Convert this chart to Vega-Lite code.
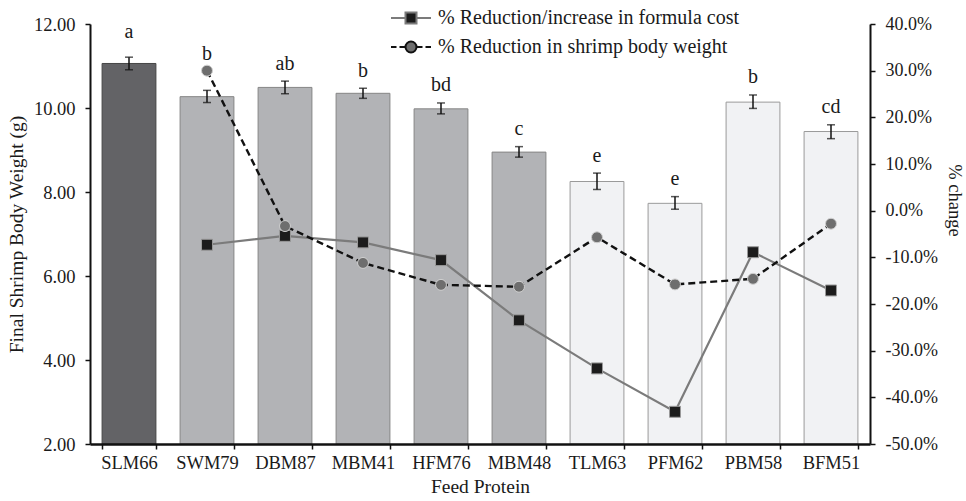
{
  "$schema": "https://vega.github.io/schema/vega-lite/v6.json",
  "width": 780,
  "height": 420,
  "autosize": {"type": "none"},
  "padding": {"left": 90, "top": 24, "right": 96, "bottom": 57},
  "background": "white",
  "config": {
    "font": "Liberation Serif",
    "view": {"stroke": null},
    "legend": {"labelFont": "Liberation Serif", "titleFont": "Liberation Serif"},
    "axis": {
      "labelFont": "Liberation Serif",
      "titleFont": "Liberation Serif",
      "labelColor": "#1a1a1a",
      "titleColor": "#1a1a1a",
      "titleFontWeight": "normal",
      "domainColor": "#111111",
      "tickColor": "#111111",
      "grid": false
    }
  },
  "datasets": {
    "bars": [
      {"protein": "SLM66", "group": "g1", "weight": 11.06, "lo": 10.91, "hi": 11.21, "letter": "a"},
      {"protein": "SWM79", "group": "g2", "weight": 10.27, "lo": 10.13, "hi": 10.42, "letter": "b"},
      {"protein": "DBM87", "group": "g2", "weight": 10.49, "lo": 10.34, "hi": 10.64, "letter": "ab"},
      {"protein": "MBM41", "group": "g2", "weight": 10.35, "lo": 10.23, "hi": 10.47, "letter": "b"},
      {"protein": "HFM76", "group": "g2", "weight": 9.98, "lo": 9.86, "hi": 10.12, "letter": "bd"},
      {"protein": "MBM48", "group": "g2", "weight": 8.95, "lo": 8.83, "hi": 9.08, "letter": "c"},
      {"protein": "TLM63", "group": "g3", "weight": 8.25, "lo": 8.06, "hi": 8.45, "letter": "e"},
      {"protein": "PFM62", "group": "g3", "weight": 7.73, "lo": 7.59, "hi": 7.89, "letter": "e"},
      {"protein": "PBM58", "group": "g3", "weight": 10.14, "lo": 9.99, "hi": 10.31, "letter": "b"},
      {"protein": "BFM51", "group": "g3", "weight": 9.44, "lo": 9.27, "hi": 9.6, "letter": "cd"}
    ],
    "lines": [
      {"protein": "SWM79", "series": "% Reduction/increase in formula cost", "value": -0.073},
      {"protein": "DBM87", "series": "% Reduction/increase in formula cost", "value": -0.054},
      {"protein": "MBM41", "series": "% Reduction/increase in formula cost", "value": -0.068},
      {"protein": "HFM76", "series": "% Reduction/increase in formula cost", "value": -0.106},
      {"protein": "MBM48", "series": "% Reduction/increase in formula cost", "value": -0.235},
      {"protein": "TLM63", "series": "% Reduction/increase in formula cost", "value": -0.338},
      {"protein": "PFM62", "series": "% Reduction/increase in formula cost", "value": -0.431},
      {"protein": "PBM58", "series": "% Reduction/increase in formula cost", "value": -0.089},
      {"protein": "BFM51", "series": "% Reduction/increase in formula cost", "value": -0.171},
      {"protein": "SWM79", "series": "% Reduction in shrimp body weight", "value": 0.3},
      {"protein": "DBM87", "series": "% Reduction in shrimp body weight", "value": -0.033},
      {"protein": "MBM41", "series": "% Reduction in shrimp body weight", "value": -0.112},
      {"protein": "HFM76", "series": "% Reduction in shrimp body weight", "value": -0.159},
      {"protein": "MBM48", "series": "% Reduction in shrimp body weight", "value": -0.163},
      {"protein": "TLM63", "series": "% Reduction in shrimp body weight", "value": -0.057},
      {"protein": "PFM62", "series": "% Reduction in shrimp body weight", "value": -0.158},
      {"protein": "PBM58", "series": "% Reduction in shrimp body weight", "value": -0.146},
      {"protein": "BFM51", "series": "% Reduction in shrimp body weight", "value": -0.028}
    ]
  },
  "encoding": {
    "x": {
      "field": "protein",
      "type": "nominal",
      "sort": ["SLM66", "SWM79", "DBM87", "MBM41", "HFM76", "MBM48", "TLM63", "PFM62", "PBM58", "BFM51"],
      "scale": {"paddingInner": 0.31, "paddingOuter": 0.155},
      "axis": {
        "title": "Feed Protein",
        "titleFontSize": 19.5,
        "titlePadding": 6,
        "labelFontSize": 18.5,
        "labelAngle": 0,
        "labelPadding": 4,
        "tickBand": "extent",
        "tickSize": 5,
        "tickWidth": 1.5,
        "domainWidth": 2.5,
        "zindex": 1
      }
    }
  },
  "layer": [
    {
      "data": {"name": "bars"},
      "layer": [
        {
          "mark": {"type": "bar", "strokeWidth": 1, "clip": true},
          "encoding": {
            "y": {
              "field": "weight",
              "type": "quantitative",
              "scale": {"domain": [2, 12], "nice": false, "zero": false},
              "axis": {
                "title": "Final Shrimp Body Weight (g)",
                "titleFontSize": 19.5,
                "titlePadding": 7,
                "labelFontSize": 18.5,
                "labelPadding": 10,
                "values": [2, 4, 6, 8, 10, 12],
                "format": ".2f",
                "tickSize": 5,
                "tickWidth": 1.5,
                "domainWidth": 2,
                "zindex": 1
              }
            },
            "y2": {"datum": 2},
            "fill": {
              "field": "group",
              "type": "nominal",
              "scale": {"domain": ["g1", "g2", "g3"], "range": ["#636366", "#b2b3b6", "#f1f2f4"]},
              "legend": null
            },
            "stroke": {
              "field": "group",
              "type": "nominal",
              "scale": {"domain": ["g1", "g2", "g3"], "range": ["#454545", "#858585", "#9a9a9a"]},
              "legend": null
            }
          }
        },
        {
          "mark": {"type": "rule", "color": "#111111", "strokeWidth": 1.5},
          "encoding": {
            "y": {"field": "lo", "type": "quantitative"},
            "y2": {"field": "hi"}
          }
        },
        {
          "mark": {"type": "tick", "color": "#111111", "thickness": 1.5, "size": 8},
          "encoding": {"y": {"field": "lo", "type": "quantitative"}}
        },
        {
          "mark": {"type": "tick", "color": "#111111", "thickness": 1.5, "size": 8},
          "encoding": {"y": {"field": "hi", "type": "quantitative"}}
        },
        {
          "mark": {
            "type": "text",
            "fontSize": 20,
            "baseline": "alphabetic",
            "dy": {"expr": "datum.protein === 'SWM79' ? -30 : (datum.protein === 'SLM66' ? -19 : -11.5)"},
            "color": "#1a1a1a",
            "font": "Liberation Serif"
          },
          "encoding": {
            "y": {"field": "hi", "type": "quantitative"},
            "text": {"field": "letter", "type": "nominal"}
          }
        }
      ]
    },
    {
      "data": {"name": "lines"},
      "encoding": {
        "y": {
          "field": "value",
          "type": "quantitative",
          "scale": {"domain": [-0.5, 0.4], "nice": false, "zero": false},
          "axis": {
            "orient": "right",
            "title": "% change",
            "titleFontSize": 18.5,
            "titlePadding": 7,
            "titleY": 176,
            "labelFontSize": 18,
            "labelPadding": 10,
            "values": [-0.5, -0.4, -0.3, -0.2, -0.1, 0, 0.1, 0.2, 0.3, 0.4],
            "labelExpr": "replace(format(datum.value, '.1%'), '\u2212', '-')",
            "tickSize": 5,
            "tickWidth": 1.5,
            "domainWidth": 2,
            "zindex": 1
          }
        },
        "fill": {
          "field": "series",
          "type": "nominal",
          "scale": {"domain": ["% Reduction/increase in formula cost", "% Reduction in shrimp body weight"], "range": ["#1c1c1c", "#6e6e6e"]},
          "legend": {
            "title": null,
            "orient": "none",
            "legendX": 310,
            "legendY": -17,
            "direction": "vertical",
            "labelFont": "Liberation Serif",
            "labelFontSize": 20,
            "labelColor": "#1a1a1a",
            "labelLimit": 500,
            "labelOffset": 16,
            "symbolSize": 400,
            "rowPadding": 8,
            "padding": 0,
            "encoding": {
              "symbols": {
                "shape": {"value": {"expr": "indexof(datum.value, 'formula') >= 0 ? 'M-2,0H-0.55M0.55,0H2M-0.55,-0.55H0.55V0.55H-0.55Z' : 'M-2,0H-1.45M-1.15,0H-0.6M0.6,0H1.15M1.45,0H2M0.55,0A0.55,0.55,0,1,1,-0.55,0A0.55,0.55,0,1,1,0.55,0Z'"}},
                "stroke": {"value": {"expr": "indexof(datum.value, 'formula') >= 0 ? '#7b7b7b' : '#111111'"}},
                "strokeWidth": {"value": 2},
                "opacity": {"value": 1}
              }
            }
          }
        }
      },
      "layer": [
        {
          "transform": [{"filter": "indexof(datum.series, 'formula') >= 0"}],
          "mark": {"type": "line", "interpolate": "linear", "strokeWidth": 2.2, "stroke": "#7b7b7b"},
          "encoding": {"fill": {"value": null}}
        },
        {
          "transform": [{"filter": "indexof(datum.series, 'formula') < 0"}],
          "mark": {"type": "line", "interpolate": "linear", "strokeWidth": 2.4, "stroke": "#111111", "strokeDash": [7, 4]},
          "encoding": {"fill": {"value": null}}
        },
        {
          "transform": [{"filter": "indexof(datum.series, 'formula') >= 0"}],
          "mark": {"type": "point", "shape": "square", "filled": true, "opacity": 1, "size": 120, "stroke": "#9a9a9a", "strokeWidth": 1},
          "encoding": {}
        },
        {
          "transform": [{"filter": "indexof(datum.series, 'formula') < 0"}],
          "mark": {"type": "point", "shape": "circle", "filled": true, "opacity": 1, "size": 120, "stroke": "#d0d0d0", "strokeWidth": 1},
          "encoding": {}
        }
      ]
    }
  ],
  "resolve": {"scale": {"y": "independent", "fill": "independent", "stroke": "independent"}}
}
